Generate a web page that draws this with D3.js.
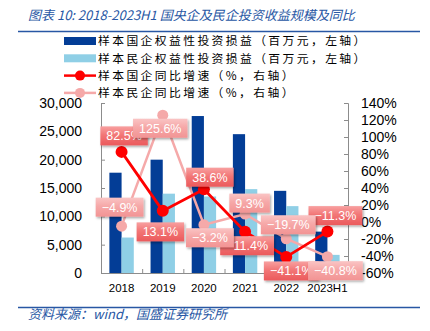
<!DOCTYPE html>
<html><head><meta charset="utf-8">
<script src="https://cdn.jsdelivr.net/npm/d3@7"></script>
<style>
body{margin:0;background:#fff;}
svg{display:block;}
</style></head><body>
<svg id="chart" width="430" height="331"></svg>
<script>
// Years on the category axis
const categories = ["2018", "2019", "2020", "2021", "2022", "2023H1"];
// Equity investment income, million yuan (left axis)
const soeIncome = [17700, 20000, 27700, 24500, 14500, 7300];
const privIncome = [6260, 14000, 13500, 14800, 11800, 3200];
// Year-on-year growth, % (right axis)
const soeGrowth = [82.5, 13.1, 38.6, -11.4, -41.1, -11.3];
const privGrowth = [-4.9, 125.6, -3.2, 9.3, -19.7, -40.8];
// Axis ticks
const leftTicks = [0, 5000, 10000, 15000, 20000, 25000, 30000];
const rightTicks = [-60, -40, -20, 0, 20, 40, 60, 80, 100, 120, 140];
// Legend entries
const seriesNames = [
  "样本国企权益性投资损益（百万元，左轴）",
  "样本民企权益性投资损益（百万元，左轴）",
  "样本国企同比增速（%，右轴）",
  "样本民企同比增速（%，右轴）"
];
const titleText = "图表 10:  2018-2023H1 国央企及民企投资收益规模及同比";
const sourceText = "资料来源：wind，国盛证券研究所";

// Data-label nudges relative to each point [dx, dy]
const soeLabelShift = [[2.5, -16], [-2.4, 21], [6, -12], [2, 14], [5, 14], [8, -16]];
const privLabelShift = [[-2, -19], [-2.5, 13], [6, 13], [4.5, -11], [2, -14], [8, 14]];

const C = {
  soe: "#033d96", priv: "#8fcfe6", red: "#ff0000", pink: "#f5a9a9",
  axis: "#8c8c8c", blue: "#2857a4"
};
const numFont = "'Liberation Sans', Arial, sans-serif";
const cjkFont = "'Noto Sans CJK SC', sans-serif";

const svg = d3.select("#chart");
const plot = {left: 101, right: 348, top: 103, bottom: 273};

const x = d3.scaleBand().domain(categories).range([plot.left, plot.right]).padding(0);
const yL = d3.scaleLinear().domain([0, 30000]).range([plot.bottom, plot.top]);
const yR = d3.scaleLinear().domain([-60, 140]).range([plot.bottom, plot.top]);
const barW = 12.2;

// defs: label gradients and shadow
const defs = svg.append("defs");
function grad(id, stops) {
  const g = defs.append("linearGradient").attr("id", id)
    .attr("x1", 0).attr("y1", 0).attr("x2", 0).attr("y2", 1);
  stops.forEach(s => g.append("stop").attr("offset", s[0]).attr("stop-color", s[1]));
}
grad("gRed", [[0, "#f8a0a0"], [0.45, "#f27676"], [1, "#eb5a5c"]]);
grad("gPink", [[0, "#fac4c4"], [0.45, "#f6a8a8"], [1, "#f29494"]]);
const f = defs.append("filter").attr("id", "shadow")
  .attr("x", "-20%").attr("y", "-20%").attr("width", "150%").attr("height", "160%");
f.append("feDropShadow").attr("dx", 1.2).attr("dy", 1.5).attr("stdDeviation", 1)
  .attr("flood-color", "#000").attr("flood-opacity", 0.35);

// Title and rules
svg.append("text").attr("x", 28).attr("y", 20)
  .attr("font-family", cjkFont).attr("font-size", 13).attr("font-style", "italic")
  .attr("fill", C.blue).text(titleText);
svg.append("line").attr("x1", 18).attr("x2", 420).attr("y1", 31.5).attr("y2", 31.5)
  .attr("stroke", C.blue).attr("stroke-width", 1.6);
svg.append("line").attr("x1", 18).attr("x2", 420).attr("y1", 307.5).attr("y2", 307.5)
  .attr("stroke", C.blue).attr("stroke-width", 1.6);
svg.append("text").attr("x", 28).attr("y", 319)
  .attr("font-family", cjkFont).attr("font-size", 13).attr("font-style", "italic")
  .attr("fill", C.blue).text(sourceText);

// Legend
const lg = svg.append("g");
const legendRows = [41, 58.3, 75.6, 92.9];
lg.append("rect").attr("x", 64).attr("y", legendRows[0] - 4).attr("width", 32).attr("height", 8).attr("fill", C.soe);
lg.append("rect").attr("x", 64).attr("y", legendRows[1] - 4).attr("width", 32).attr("height", 8).attr("fill", C.priv);
[[C.red, legendRows[2]], [C.pink, legendRows[3]]].forEach(([c, yy]) => {
  lg.append("line").attr("x1", 64).attr("x2", 96).attr("y1", yy).attr("y2", yy)
    .attr("stroke", c).attr("stroke-width", 2.5);
  lg.append("circle").attr("cx", 80).attr("cy", yy).attr("r", 5).attr("fill", c);
});
seriesNames.forEach((s, i) => {
  lg.append("text").attr("x", 98).attr("y", legendRows[i]).attr("dy", "0.36em")
    .attr("font-family", cjkFont).attr("font-size", 11.8).attr("letter-spacing", 2.4)
    .attr("fill", "#000").text(s);
});

// Bars
const bars = svg.append("g");
bars.selectAll(".soe").data(soeIncome).join("rect")
  .attr("x", (d, i) => x(categories[i]) + x.bandwidth() / 2 - barW)
  .attr("y", d => yL(d)).attr("width", barW).attr("height", d => yL(0) - yL(d))
  .attr("fill", C.soe);
bars.selectAll(".priv").data(privIncome).join("rect")
  .attr("x", (d, i) => x(categories[i]) + x.bandwidth() / 2)
  .attr("y", d => yL(d)).attr("width", barW).attr("height", d => yL(0) - yL(d))
  .attr("fill", C.priv);

// Axes
const axL = svg.append("g").attr("transform", `translate(${plot.left},0)`)
  .call(d3.axisRight(yL).tickValues(leftTicks).tickSize(4).tickFormat(""));
const axR = svg.append("g").attr("transform", `translate(${plot.right},0)`)
  .call(d3.axisLeft(yR).tickValues(rightTicks).tickSize(4).tickFormat(""));
const boundaries = categories.map(c => x(c)).concat([plot.right]);
const axB = svg.append("g").attr("transform", `translate(0,${plot.bottom})`)
  .call(d3.axisTop(d3.scaleLinear().domain([plot.left, plot.right]).range([plot.left, plot.right]))
    .tickValues(boundaries).tickSize(4).tickFormat(""));
[axL, axR, axB].forEach(a => {
  a.selectAll("path").attr("stroke", C.axis).attr("stroke-width", 1);
  a.selectAll("line").attr("stroke", C.axis).attr("stroke-width", 1);
});

// Tick labels
svg.append("g").selectAll("text").data(leftTicks).join("text")
  .attr("x", 82).attr("y", d => yL(d)).attr("dy", "0.36em").attr("text-anchor", "end")
  .attr("font-family", numFont).attr("font-size", 14).attr("fill", "#000")
  .text(d => d3.format(",")(d));
svg.append("g").selectAll("text").data(rightTicks).join("text")
  .attr("x", 361).attr("y", d => yR(d)).attr("dy", "0.36em").attr("text-anchor", "start")
  .attr("font-family", numFont).attr("font-size", 14).attr("fill", "#000")
  .text(d => d + "%");
svg.append("g").selectAll("text").data(categories).join("text")
  .attr("x", d => x(d) + x.bandwidth() / 2).attr("y", 292).attr("text-anchor", "middle")
  .attr("font-family", numFont).attr("font-size", 11.5).attr("fill", "#000")
  .text(d => d);

// Growth lines
const cx = i => x(categories[i]) + x.bandwidth() / 2;
function drawLine(vals, color, w, r) {
  const g = svg.append("g");
  g.append("path").datum(vals)
    .attr("d", d3.line().x((d, i) => cx(i)).y(d => yR(d)))
    .attr("fill", "none").attr("stroke", color).attr("stroke-width", w);
  g.selectAll("circle").data(vals).join("circle")
    .attr("cx", (d, i) => cx(i)).attr("cy", d => yR(d)).attr("r", r).attr("fill", color);
}
drawLine(privGrowth, C.pink, 2.5, 5.5);
drawLine(soeGrowth, C.red, 2.8, 6);

// Data labels
function drawLabels(vals, shifts, fillId) {
  const g = svg.append("g");
  vals.forEach((v, i) => {
    const px = cx(i) + shifts[i][0], py = yR(v) + shifts[i][1];
    const lab = g.append("g").attr("transform", `translate(${px},${py})`);
    const box = lab.append("rect").attr("fill", `url(#${fillId})`).attr("filter", "url(#shadow)");
    const t = lab.append("text").attr("text-anchor", "middle").attr("dy", "0.36em")
      .attr("font-family", numFont).attr("font-size", 12.5).attr("fill", "#fff")
      .text(d3.format(".1f")(v) + "%");
    const w = t.node().getComputedTextLength() + 12, h = 19;
    box.attr("x", -w / 2).attr("y", -h / 2).attr("width", w).attr("height", h);
  });
}
drawLabels(soeGrowth, soeLabelShift, "gRed");
drawLabels(privGrowth, privLabelShift, "gPink");
</script>
</body></html>
